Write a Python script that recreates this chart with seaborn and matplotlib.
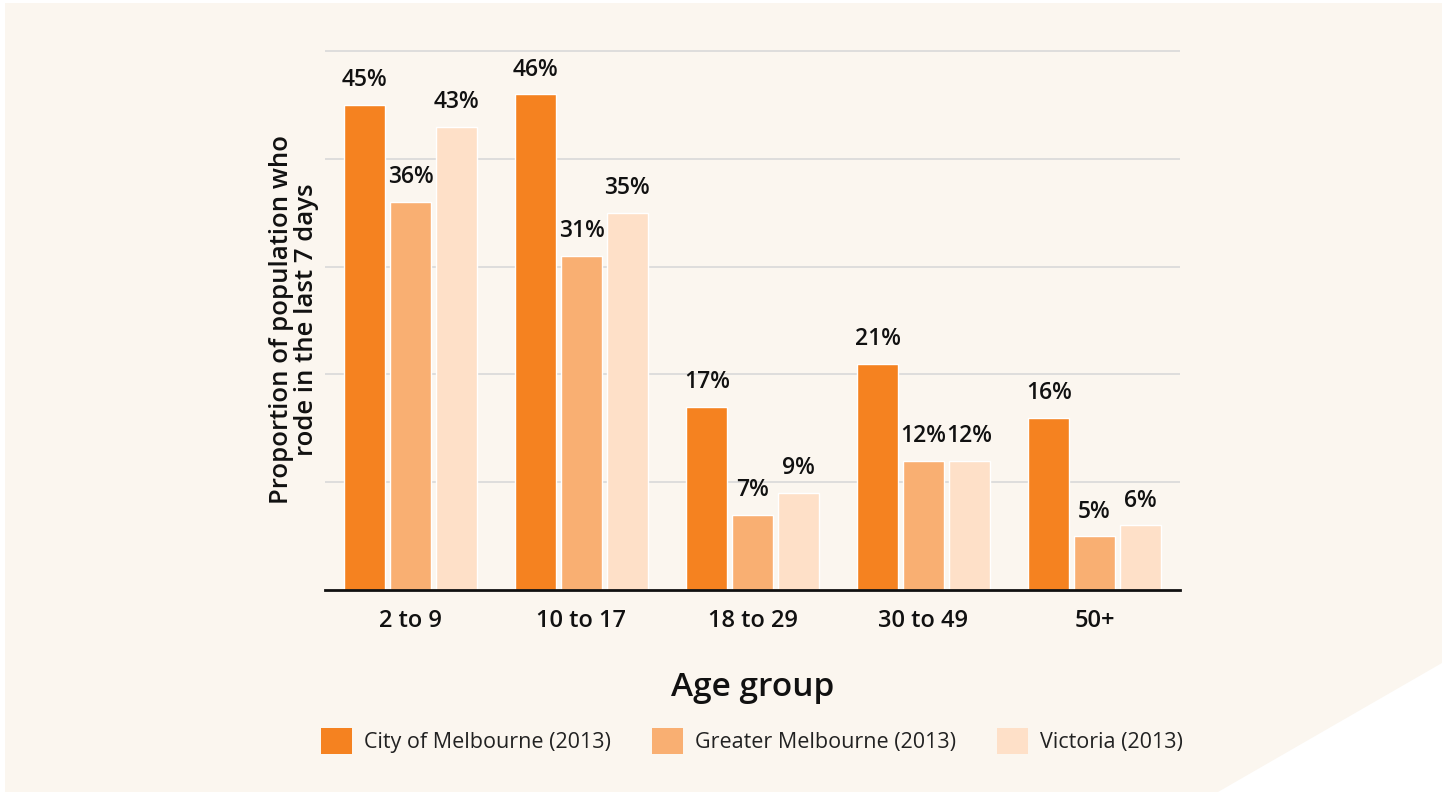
import pandas as pd
import matplotlib.pyplot as plt
import seaborn as sns
from matplotlib.patches import Rectangle, Polygon

# 데이터
age_groups = ["2 to 9", "10 to 17", "18 to 29", "30 to 49", "50+"]
series_names = ["City of Melbourne (2013)", "Greater Melbourne (2013)", "Victoria (2013)"]
city_melb = [45, 46, 17, 21, 16]
greater_melb = [36, 31, 7, 12, 5]
victoria = [43, 35, 9, 12, 6]
colors = ["#F58220", "#F9AF72", "#FEE0C8"]

df = pd.DataFrame({
    "age": age_groups * 3,
    "series": [s for s in series_names for _ in age_groups],
    "value": city_melb + greater_melb + victoria,
})

bg = "#FBF6EF"
sns.set_theme(style="white")
plt.rcParams["font.family"] = ["Open Sans", "DejaVu Sans"]
plt.rcParams["font.weight"] = "semibold"
plt.rcParams["axes.labelweight"] = "semibold"

fig = plt.figure(figsize=(14.5, 7.92), dpi=100)
fig.patch.set_facecolor("white")
# 크림색 배경 + 오른쪽 아래 흰 삼각형
fig.patches.append(Rectangle((5 / 1450, 0), 1437 / 1450, 789 / 792,
                             transform=fig.transFigure, facecolor=bg, edgecolor="none", zorder=-10))
fig.patches.append(Polygon([(1442 / 1450, 129 / 792), (1442 / 1450, 0), (1218 / 1450, 0)],
                           closed=True, transform=fig.transFigure, facecolor="white",
                           edgecolor="none", zorder=-9))

ax = fig.add_axes([325 / 1450, 202 / 792, 855 / 1450, 540 / 792])
ax.set_facecolor(bg)
ax.patch.set_alpha(0)

sns.barplot(data=df, x="age", y="value", hue="series", order=age_groups,
            hue_order=series_names, palette=dict(zip(series_names, colors)),
            width=0.8, gap=0.1, saturation=1, legend=False, ax=ax, zorder=3)

for cont in ax.containers:
    ax.bar_label(cont, labels=[f"{v:.0f}%" for v in cont.datavalues], padding=9,
                 fontsize=16.5, color="#111111")

ax.set_xlim(-0.5, 4.5)
ax.set_ylim(0, 50.1)
ax.set_yticks([10, 20, 30, 40, 50])
ax.set_yticklabels([])
ax.tick_params(axis="y", length=0)
ax.tick_params(axis="x", length=0, pad=14, labelsize=17, labelcolor="#111111")
ax.grid(axis="y", color="#D9D9D9", linewidth=1.2, zorder=0)
for s in ["top", "right", "left"]:
    ax.spines[s].set_visible(False)
ax.spines["bottom"].set_color("#111111")
ax.spines["bottom"].set_linewidth(2)
ax.spines["bottom"].set_zorder(5)

ax.set_xlabel("Age group", fontsize=24, color="#111111", labelpad=27)
ax.set_ylabel("Proportion of population who\nrode in the last 7 days", fontsize=18.5,
              color="#111111", labelpad=1, linespacing=0.98)

handles = [Rectangle((0, 0), 1, 1, facecolor=c, edgecolor="none") for c in colors]
fig.legend(handles, series_names, loc="center", bbox_to_anchor=(752 / 1450, 51 / 792),
           ncol=3, frameon=False, prop={"size": 15.5, "weight": "normal"},
           handlelength=1.45, handleheight=1.5, handletextpad=0.55, columnspacing=1.9,
           labelcolor="#222222")

plt.savefig("out.png", dpi=100, facecolor=fig.get_facecolor())
